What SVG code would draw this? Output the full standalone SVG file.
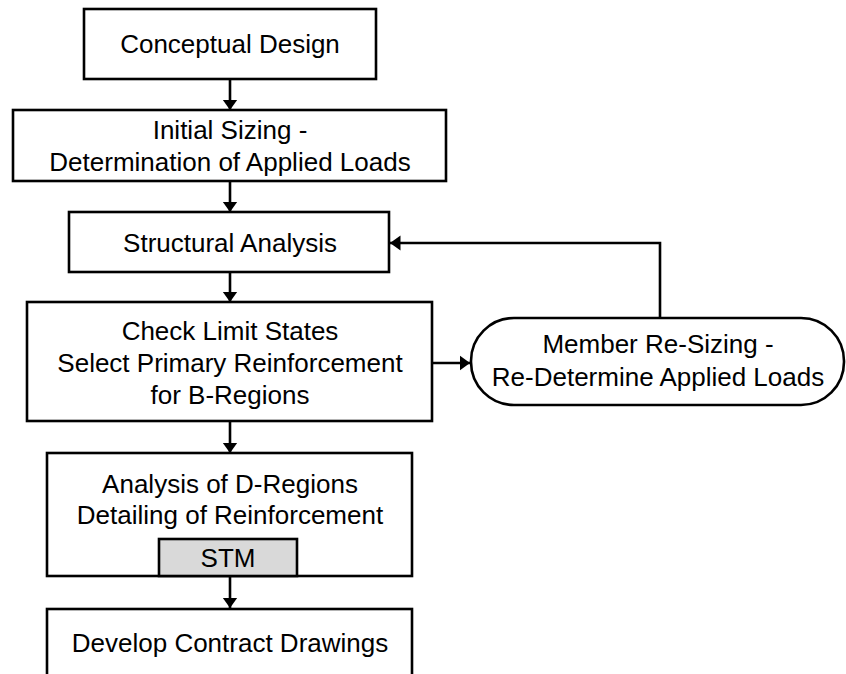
<svg xmlns="http://www.w3.org/2000/svg" width="846" height="674" viewBox="0 0 846 674">
<style>
.box{fill:#fff;stroke:#000;stroke-width:2.6}
.stm{fill:#d9d9d9;stroke:#000;stroke-width:2.6}
.t{font-family:"Liberation Sans",Arial,sans-serif;font-size:26px;fill:#000;text-anchor:middle}
.c{fill:none;stroke:#000;stroke-width:2.6}
</style>
<defs>
<marker id="ah" markerUnits="userSpaceOnUse" viewBox="0 -8 11 16" markerWidth="11" markerHeight="16" refX="10.5" refY="0" orient="auto">
<path d="M0,-7.5 L10.5,0 L0,7.5 z" fill="#000"/>
</marker>
</defs>
<rect width="846" height="674" fill="#fff"/>
<g id="connectors">
<line class="c" x1="230" y1="79" x2="230" y2="110" marker-end="url(#ah)"/>
<line class="c" x1="230" y1="181" x2="230" y2="212" marker-end="url(#ah)"/>
<line class="c" x1="230" y1="272" x2="230" y2="302" marker-end="url(#ah)"/>
<line class="c" x1="230" y1="421" x2="230" y2="453" marker-end="url(#ah)"/>
<line class="c" x1="230" y1="576" x2="230" y2="608" marker-end="url(#ah)"/>
<line class="c" x1="432" y1="363" x2="470" y2="363" marker-end="url(#ah)"/>
<polyline class="c" points="660,318 660,243 390,243" marker-end="url(#ah)"/>
</g>
<g id="n1"><rect class="box" x="84" y="9" width="292" height="70"/><text class="t" x="230" y="53">Conceptual Design</text></g>
<g id="n2"><rect class="box" x="13" y="110" width="433" height="71"/><text class="t" x="230" y="139">Initial Sizing -</text><text class="t" x="230" y="171">Determination of Applied Loads</text></g>
<g id="n3"><rect class="box" x="69" y="212" width="320" height="60"/><text class="t" x="230" y="252">Structural Analysis</text></g>
<g id="n4"><rect class="box" x="27" y="302" width="405" height="119"/><text class="t" x="230" y="340">Check Limit States</text><text class="t" x="230" y="372">Select Primary Reinforcement</text><text class="t" x="230" y="404">for B-Regions</text></g>
<g id="n5"><rect class="box" x="47" y="453" width="365" height="123"/><text class="t" x="230" y="493">Analysis of D-Regions</text><text class="t" x="230" y="524">Detailing of Reinforcement</text><rect class="stm" x="159" y="539" width="138" height="37"/><text class="t" x="228" y="567">STM</text></g>
<g id="n6"><rect class="box" x="47" y="609" width="365" height="90"/><text class="t" x="230" y="652">Develop Contract Drawings</text></g>
<g id="n7"><rect class="box" x="471" y="318" width="373" height="87" rx="43" ry="43"/><text class="t" x="658" y="353">Member Re-Sizing -</text><text class="t" x="658" y="386">Re-Determine Applied Loads</text></g>
</svg>
